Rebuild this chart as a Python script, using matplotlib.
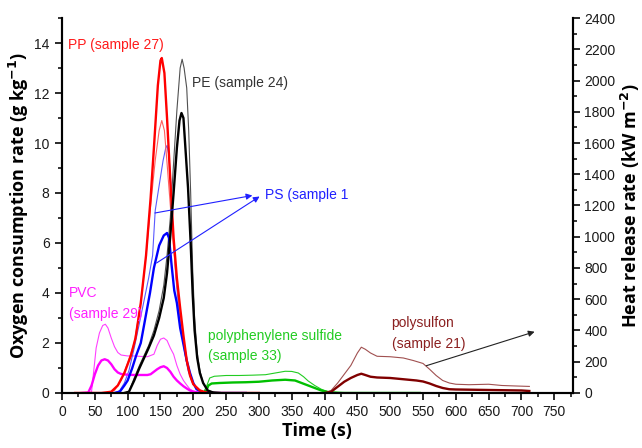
import numpy as np
import matplotlib
matplotlib.use('Agg')
import matplotlib.pyplot as plt
from matplotlib.ticker import MultipleLocator

# DATA - oxygen consumption rate (g/kg), thick lines, left axis
pp_t = [20, 60, 75, 85, 95, 105, 112, 120, 128, 135, 140, 146, 150, 152, 156, 160, 165, 170, 175, 180, 185, 190, 195, 200, 210, 220, 230, 300]
pp_o2 = [0, 0, 0.05, 0.3, 0.8, 1.5, 2.2, 3.6, 5.5, 7.8, 9.8, 12.3, 13.3, 13.4, 12.8, 11.0, 8.5, 6.2, 4.6, 3.4, 2.3, 1.3, 0.7, 0.35, 0.1, 0.02, 0, 0]

pe_t = [95, 102, 110, 118, 125, 132, 140, 148, 155, 160, 165, 170, 175, 179, 182, 185, 188, 192, 196, 199, 202, 206, 210, 215, 222, 230, 240]
pe_o2 = [0, 0.05, 0.5, 1.0, 1.4, 1.8, 2.3, 3.0, 3.8, 4.8, 6.3, 8.0, 9.8, 10.9, 11.2, 11.0, 9.8, 8.2, 6.0, 4.0, 2.5, 1.4, 0.8, 0.4, 0.1, 0.02, 0]

ps_t = [80, 88, 95, 100, 107, 113, 120, 127, 134, 140, 148, 155, 160, 163, 167, 171, 175, 180, 185, 190, 195, 200, 205, 215, 230, 280]
ps_o2 = [0, 0.05, 0.3, 0.5, 1.0, 1.5, 2.0, 3.0, 4.0, 5.0, 5.9, 6.3, 6.4, 6.2, 5.1, 4.1, 3.6, 2.6, 1.95, 1.3, 0.8, 0.4, 0.15, 0.03, 0, 0]

pvc_t = [30, 40, 45, 50, 55, 60, 65, 70, 75, 80, 85, 90, 100, 110, 120, 130, 135, 140, 145, 150, 155, 160, 165, 170, 175, 180, 185, 190, 195, 200, 210, 220]
pvc_o2 = [0, 0.02, 0.3, 0.75, 1.1, 1.3, 1.35, 1.3, 1.15, 0.95, 0.82, 0.76, 0.73, 0.72, 0.72, 0.72, 0.75, 0.85, 0.95, 1.03, 1.07, 1.0, 0.85, 0.65, 0.5, 0.38, 0.27, 0.18, 0.1, 0.05, 0.01, 0]

pps_t = [215, 220, 223, 228, 240, 260, 280, 300, 320, 340, 355, 365, 375, 385, 395, 405, 420, 430, 545]
pps_o2 = [0, 0.1, 0.3, 0.38, 0.4, 0.42, 0.43, 0.45, 0.5, 0.53, 0.5, 0.4, 0.3, 0.2, 0.1, 0.04, 0.01, 0, 0]

psu_t = [400, 410, 420, 430, 440, 450, 456, 462, 470, 480, 500, 520, 540, 550, 560, 570, 580, 590, 600, 650, 700, 712]
psu_o2 = [0, 0.05, 0.25, 0.45, 0.6, 0.72, 0.77, 0.72, 0.65, 0.62, 0.6, 0.55, 0.5, 0.46, 0.38, 0.28, 0.2, 0.15, 0.14, 0.12, 0.1, 0.08]

# heat release rate (kW/m2), thin lines, right axis
pp_ht = [70, 80, 90, 100, 110, 120, 128, 135, 142, 148, 152, 156, 160, 165, 170, 175, 180, 185, 190, 195, 200, 210, 220]
pp_hrr = [0, 16, 80, 192, 320, 576, 880, 1200, 1488, 1680, 1744, 1680, 1472, 1200, 928, 688, 512, 352, 208, 112, 56, 16, 0]

pe_ht = [95, 102, 110, 118, 125, 132, 140, 148, 155, 160, 165, 170, 175, 180, 183, 186, 190, 193, 196, 199, 202, 206, 210, 215, 222, 235]
pe_hrr = [0, 8, 96, 176, 240, 304, 400, 528, 688, 880, 1120, 1472, 1808, 2080, 2136, 2080, 1952, 1680, 1280, 800, 480, 256, 144, 64, 16, 0]

ps_ht = [80, 88, 95, 102, 110, 118, 125, 132, 138, 142, 148, 154, 158, 160, 163, 166, 169, 173, 177, 182, 187, 192, 198, 205, 215, 225]
ps_hrr = [0, 16, 64, 144, 288, 448, 592, 736, 880, 1168, 1328, 1488, 1568, 1584, 1520, 1328, 1040, 768, 576, 400, 256, 144, 72, 24, 5, 0]

pvc_ht = [40, 45, 48, 52, 57, 62, 66, 70, 75, 80, 85, 90, 100, 110, 120, 130, 140, 145, 150, 155, 160, 165, 170, 175, 180, 185, 190, 195, 200, 210, 220]
pvc_hrr = [0, 8, 128, 288, 384, 432, 440, 416, 352, 296, 259, 243, 237, 237, 234, 232, 248, 304, 344, 352, 336, 288, 248, 176, 120, 80, 51, 24, 13, 3, 0]

pps_ht = [215, 220, 225, 232, 250, 270, 290, 310, 325, 340, 350, 360, 368, 375, 385, 395, 405, 415]
pps_hrr = [0, 40, 96, 107, 112, 112, 114, 117, 128, 139, 138, 128, 104, 77, 48, 24, 8, 0]

psu_ht = [400, 410, 420, 430, 440, 450, 456, 462, 470, 480, 500, 520, 535, 550, 560, 570, 580, 590, 600, 620, 650, 670, 690, 712]
psu_hrr = [0, 16, 64, 120, 176, 256, 293, 280, 256, 235, 232, 224, 208, 189, 152, 112, 80, 64, 56, 53, 56, 48, 45, 42]

plt.rcParams['font.family'] = ['Liberation Sans', 'DejaVu Sans']

fig = plt.figure(figsize=(6.42, 4.48), dpi=100)
ax = fig.add_axes([0.0966, 0.1228, 0.7954, 0.8370])
ax2 = ax.twinx()

thin = 0.8
thick = 1.7
# thin HRR lines
ax2.plot(pvc_ht, pvc_hrr, color='#ff40ff', lw=thin)
ax2.plot(pps_ht, pps_hrr, color='#22cc22', lw=thin)
ax2.plot(psu_ht, psu_hrr, color='#a05050', lw=thin)
ax2.plot(ps_ht, ps_hrr, color='#5a5aff', lw=thin)
ax2.plot(pp_ht, pp_hrr, color='#ff6060', lw=thin)
ax2.plot(pe_ht, pe_hrr, color='#505050', lw=thin)
# thick O2 lines
ax.plot(pvc_t, pvc_o2, color='#ff00ff', lw=thick)
ax.plot(pps_t, pps_o2, color='#00c000', lw=thick)
ax.plot(psu_t, psu_o2, color='#800000', lw=thick)
ax.plot(ps_t, ps_o2, color='#0000ff', lw=thick)
ax.plot(pp_t, pp_o2, color='#ff0000', lw=thick)
ax.plot(pe_t, pe_o2, color='#000000', lw=thick)

ax.set_xlim(0, 778)
ax.set_ylim(0, 15)
ax2.set_ylim(0, 2400)
ax.set_zorder(ax2.get_zorder() + 1)
ax.patch.set_visible(False)

ax.xaxis.set_major_locator(MultipleLocator(50))
ax.xaxis.set_minor_locator(MultipleLocator(25))
ax.yaxis.set_major_locator(MultipleLocator(2))
ax.yaxis.set_minor_locator(MultipleLocator(1))
ax2.yaxis.set_major_locator(MultipleLocator(200))
ax2.yaxis.set_minor_locator(MultipleLocator(100))

for a in (ax, ax2):
    a.spines['top'].set_visible(False)
    for s in a.spines.values():
        s.set_linewidth(1.5)
    a.tick_params(which='major', direction='out', length=5, width=1.3, labelsize=10, colors='#1a1a1a')
    a.tick_params(which='minor', direction='out', length=3, width=1.1)
ax.tick_params(axis='x', pad=4)
ax.tick_params(axis='y', pad=4)
ax.set_yticks(np.arange(0, 15, 2))

lab = dict(fontsize=13, fontweight='bold', family=['Open Sans', 'DejaVu Sans'])
ax.set_xlabel('Time (s)', labelpad=2, **lab)
ax.set_ylabel('Oxygen consumption rate (g kg$^{\\mathbf{-1}}$)', labelpad=2, **lab)
ax2.set_ylabel('Heat release rate (kW m$^{\\mathbf{-2}}$)', labelpad=2, **lab)

# labels
ax.text(9, 13.94, 'PP (sample 27)', color='#ff1a1a', fontsize=10, va='center')
ax.text(198, 12.4, 'PE (sample 24)', color='#333333', fontsize=10, va='center')
ax.text(310, 7.93, 'PS (sample 1', color='#2020ff', fontsize=10, va='center')
ax.text(10, 3.58, 'PVC\n(sample 29)', color='#ff20ff', fontsize=10, va='center', linespacing=1.65)
ax.text(222, 1.88, 'polyphenylene sulfide\n(sample 33)', color='#22cc22', fontsize=10, va='center', linespacing=1.6)
ax.text(502, 2.39, 'polysulfon\n(sample 21)', color='#8b2020', fontsize=10, va='center', linespacing=1.65)

blue_arrow = dict(arrowstyle='-|>', color='#2020ff', lw=0.8, mutation_scale=9, shrinkA=0, shrinkB=0)
ax.annotate('', xy=(290, 7.9), xytext=(141.5, 7.2), arrowprops=blue_arrow)
ax.annotate('', xy=(301, 7.86), xytext=(144, 5.2), arrowprops=blue_arrow)
ax.annotate('', xy=(720, 2.45), xytext=(555, 1.09),
            arrowprops=dict(arrowstyle='-|>', color='#222222', lw=0.8, mutation_scale=9, shrinkA=0, shrinkB=0))

fig.savefig('out.png', dpi=100)
